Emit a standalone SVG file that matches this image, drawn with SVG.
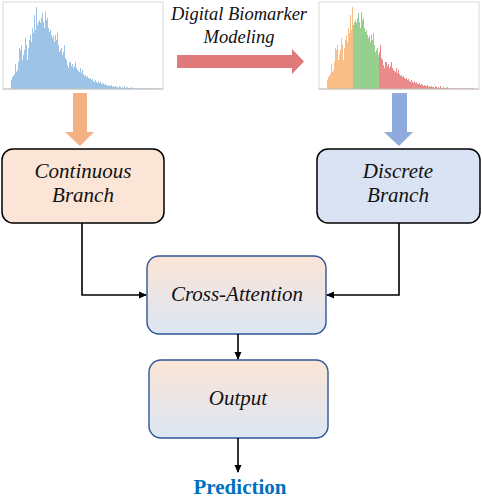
<svg xmlns="http://www.w3.org/2000/svg" width="482" height="498" viewBox="0 0 482 498">
<style>
.frame{fill:#fff;stroke:#d9d9d9;stroke-width:1}
.axis{stroke:#bfbfbf;stroke-width:1}
.lbl{font-family:"Liberation Serif","Times New Roman",serif;font-style:italic;font-size:21px;fill:#111;text-anchor:middle}
.conn{fill:none;stroke:#000;stroke-width:1.6}
.box{stroke:#000;stroke-width:1.5}
.gbox{fill:url(#g);stroke:#2f5597;stroke-width:1.4}
</style>
<defs>
<linearGradient id="g" x1="0" y1="0" x2="0" y2="1">
<stop offset="0" stop-color="#fbe5d6"/>
<stop offset="1" stop-color="#dce6f4"/>
</linearGradient>
<marker id="ah" markerWidth="8" markerHeight="8" refX="7" refY="4" orient="auto" markerUnits="userSpaceOnUse">
<path d="M0,0.5 L8,4 L0,7.5 Z" fill="#000"/>
</marker>
<path id="hist" d="M11 89V80H12V77H13V76H14V74H15V64H16V72H17V70H18V62H19V48H20V50H21V45H22V60H23V55H24V50H25V38H26V45H27V60H28V48H29V40H30V35H31V42H32V28H33V33H34V15H35V30H36V7H37V25H38V22H39V20H40V23H41V18H42V13H43V22H44V28H45V12H46V20H47V18H48V28H49V32H50V30H51V35H52V38H53V36H54V42H55V35H56V40H57V33H58V45H59V52H60V50H61V48H62V55H63V52H64V45H65V58H66V60H67V65H68V68H69V62H70V62H71V66H72V64H73V68H74V66H75V62H76V68H77V70H78V71H79V72H80V68H81V73H82V70H83V74H84V76H85V75H86V77H87V76H88V78H89V79H90V78H91V80H92V79H93V81H94V82H95V80H96V82H97V83H98V81H99V83H100V82H101V84H102V84H103V83H104V85H105V84H106V85H107V86H108V85H109V86H110V86H111V85H112V87H113V86H114V87H115V86H116V87H117V87H118V88H119V86H120V87H121V88H122V87H123V88H124V86H125V88H126V88H127V87H128V88H129V88H130V88H131V87H132V88H133V88.5H158V89Z"/>
<clipPath id="cO"><rect x="0" y="0" width="37" height="100"/></clipPath>
<clipPath id="cG"><rect x="37" y="0" width="26" height="100"/></clipPath>
<clipPath id="cR"><rect x="63" y="0" width="120" height="100"/></clipPath>
</defs>

<g id="hist-continuous">
<rect class="frame" x="3" y="2" width="160" height="87"/>
<use href="#hist" fill="#9dc3e6"/>
<line class="axis" x1="3" y1="89" x2="163" y2="89"/>
</g>

<g id="hist-discrete">
<rect class="frame" x="319" y="2" width="160" height="87"/>
<g transform="translate(316,0)">
<use href="#hist" fill="#f9be86" clip-path="url(#cO)"/>
<use href="#hist" fill="#97cf8e" clip-path="url(#cG)"/>
<use href="#hist" fill="#e98b8b" clip-path="url(#cR)"/>
</g>
<line class="axis" x1="319" y1="89" x2="479" y2="89"/>
</g>

<g id="modeling-arrow">
<path d="M177,55 H292 V49 L304,61.5 L292,74 V68 H177 Z" fill="#e07a7a"/>
<text class="lbl" x="239" y="20" style="font-size:18.5px">Digital Biomarker</text>
<text class="lbl" x="239" y="43" style="font-size:18.5px">Modeling</text>
</g>

<g id="arrow-orange">
<path d="M73,93 H87 V132 H94 L80,146 L65,132 H73 Z" fill="#f4b183"/>
</g>
<g id="arrow-blue">
<path d="M392,93 H407 V132 H413 L399,146 L384,132 H392 Z" fill="#8faadc"/>
</g>

<g id="continuous-branch">
<rect class="box" x="2" y="149" width="162" height="74" rx="11" fill="#fbe5d6"/>
<text class="lbl" x="83" y="178">Continuous</text>
<text class="lbl" x="83" y="202">Branch</text>
</g>

<g id="discrete-branch">
<rect class="box" x="317" y="149" width="163" height="74" rx="11" fill="#dae3f3"/>
<text class="lbl" x="398" y="178">Discrete</text>
<text class="lbl" x="398" y="202">Branch</text>
</g>

<g id="cross-attention">
<rect class="gbox" x="147" y="256" width="179" height="78" rx="12"/>
<text class="lbl" x="237" y="301">Cross-Attention</text>
</g>

<g id="output">
<rect class="gbox" x="149" y="360" width="179" height="78" rx="12"/>
<text class="lbl" x="238" y="405">Output</text>
</g>

<g id="prediction">
<text x="240" y="494" style="font-family:'Liberation Serif','Times New Roman',serif;font-weight:bold;font-size:21px;fill:#0070c0;text-anchor:middle">Prediction</text>
</g>

<g id="connectors">
<path class="conn" d="M82,223 V295 H146" marker-end="url(#ah)"/>
<path class="conn" d="M399,223 V295 H327" marker-end="url(#ah)"/>
<path class="conn" d="M238,334 V359" marker-end="url(#ah)"/>
<path class="conn" d="M238,438 V472" marker-end="url(#ah)"/>
</g>
</svg>
